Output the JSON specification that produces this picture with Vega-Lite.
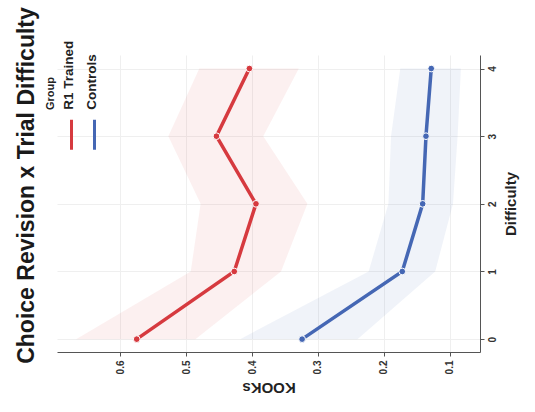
{
  "$schema": "https://vega.github.io/schema/vega-lite/v6.json",
  "width": 423,
  "height": 297,
  "autosize": {"type": "none"},
  "padding": {"left": 57, "top": 55, "right": 55, "bottom": 60},
  "background": "white",
  "title": {
    "text": "Choice Revision x Trial Difficulty",
    "orient": "left",
    "anchor": "middle",
    "fontSize": 23,
    "fontWeight": "bold",
    "color": "#1a1a1a",
    "font": "Liberation Sans",
    "offset": 6,
    "dx": 18
  },
  "config": {
    "view": {"stroke": null},
    "font": "Liberation Sans",
    "axis": {
      "domainColor": "#555555",
      "tickColor": "#555555",
      "tickSize": 4,
      "gridColor": "#efefef",
      "labelFontSize": 10,
      "labelColor": "#333333",
      "labelFontWeight": "bold",
      "titleFontSize": 15,
      "titleFontWeight": "bold",
      "titleColor": "#222222"
    }
  },
  "data": {
    "values": [
      {"Group": "R1 Trained", "Difficulty": 0, "KOOKs": 0.575, "lower": 0.486, "upper": 0.667},
      {"Group": "R1 Trained", "Difficulty": 1, "KOOKs": 0.427, "lower": 0.356, "upper": 0.493},
      {"Group": "R1 Trained", "Difficulty": 2, "KOOKs": 0.394, "lower": 0.316, "upper": 0.478},
      {"Group": "R1 Trained", "Difficulty": 3, "KOOKs": 0.454, "lower": 0.383, "upper": 0.527},
      {"Group": "R1 Trained", "Difficulty": 4, "KOOKs": 0.404, "lower": 0.329, "upper": 0.480},
      {"Group": "Controls", "Difficulty": 0, "KOOKs": 0.324, "lower": 0.240, "upper": 0.418},
      {"Group": "Controls", "Difficulty": 1, "KOOKs": 0.172, "lower": 0.122, "upper": 0.223},
      {"Group": "Controls", "Difficulty": 2, "KOOKs": 0.141, "lower": 0.095, "upper": 0.193},
      {"Group": "Controls", "Difficulty": 3, "KOOKs": 0.136, "lower": 0.088, "upper": 0.189},
      {"Group": "Controls", "Difficulty": 4, "KOOKs": 0.128, "lower": 0.083, "upper": 0.175}
    ]
  },
  "encoding": {
    "y": {
      "field": "Difficulty",
      "type": "quantitative",
      "scale": {"domain": [-0.19, 4.2], "nice": false, "zero": false},
      "axis": {
        "orient": "right",
        "values": [0, 1, 2, 3, 4],
        "labelAngle": -90,
        "labelAlign": "center",
        "labelBaseline": "top",
        "labelPadding": 3,
        "titleAngle": -90,
        "titleBaseline": "top",
        "titlePadding": 6,
        "title": "Difficulty"
      }
    },
    "color": {
      "field": "Group",
      "type": "nominal",
      "scale": {"domain": ["R1 Trained", "Controls"], "range": ["#d63a3f", "#4567b4"]},
      "legend": {
        "orient": "none",
        "legendX": -12,
        "legendY": 63,
        "direction": "horizontal",
        "title": "Group",
        "titleOrient": "left",
        "titlePadding": -8,
        "titleFontSize": 11,
        "titleFontWeight": "bold",
        "titleColor": "#222222",
        "labelFontSize": 13.5,
        "labelFontWeight": "bold",
        "labelColor": "#222222",
        "symbolType": "M0,-1L0,1",
        "symbolSize": 900,
        "symbolStrokeWidth": 3,
        "columnPadding": -5,
        "encode": {
          "symbols": {
            "update": {
              "shape": {"value": "M0,-1L0,1"},
              "stroke": {"scale": "color", "field": "value"},
              "strokeWidth": {"value": 3},
              "opacity": {"value": 1},
              "fill": {"value": "transparent"}
            }
          },
          "labels": {
            "update": {
              "angle": {"value": -90},
              "align": {"value": "left"},
              "baseline": {"value": "middle"},
              "dx": {"value": 25},
              "dy": {"value": -23}
            }
          },
          "title": {
            "update": {
              "angle": {"value": -90},
              "dx": {"value": 27}
            }
          }
        }
      }
    }
  },
  "layer": [
    {
      "mark": {"type": "area", "orient": "horizontal", "opacity": 0.08},
      "encoding": {
        "x": {
          "field": "lower",
          "type": "quantitative",
          "title": "KOOKs",
          "scale": {"domain": [0.054, 0.696], "reverse": true, "nice": false, "zero": false},
          "axis": {
            "orient": "bottom",
            "values": [0.1, 0.2, 0.3, 0.4, 0.5, 0.6],
            "format": ".1f",
            "labelAngle": -90,
            "labelPadding": 4,
            "titleAngle": 180,
            "titleBaseline": "bottom",
            "titlePadding": 6,
            "title": "KOOKs"
          }
        },
        "x2": {"field": "upper"}
      }
    },
    {
      "mark": {"type": "line", "strokeWidth": 3.5},
      "encoding": {
        "x": {"field": "KOOKs", "type": "quantitative", "title": "KOOKs"},
        "order": {"field": "Difficulty"}
      }
    },
    {
      "mark": {"type": "point", "filled": true, "opacity": 1, "stroke": "white", "strokeWidth": 1, "size": 45},
      "encoding": {
        "x": {"field": "KOOKs", "type": "quantitative", "title": "KOOKs"}
      }
    }
  ]
}
